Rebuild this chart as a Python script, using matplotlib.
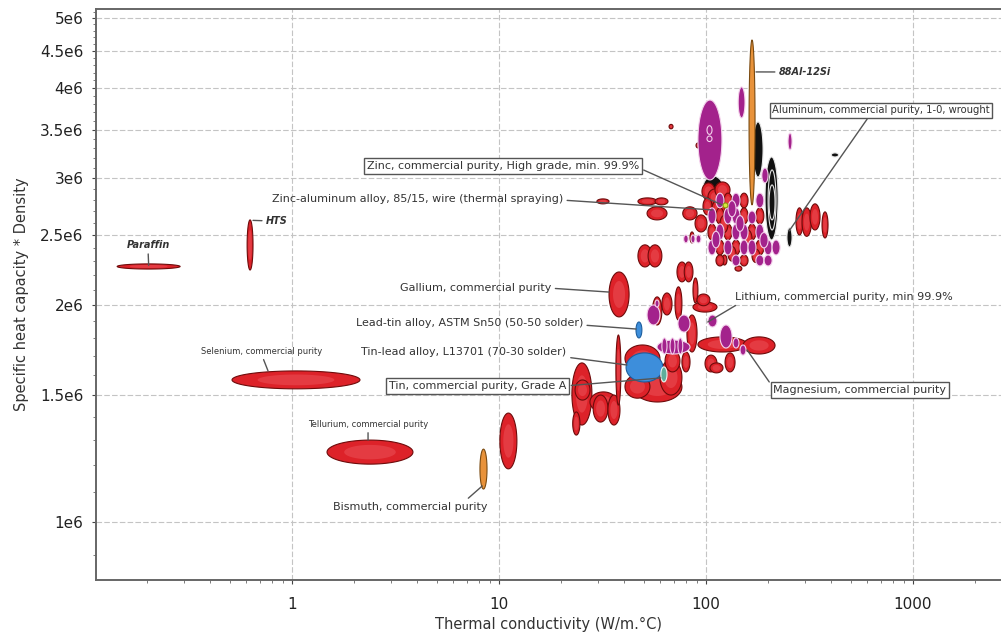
import numpy as np
import matplotlib
matplotlib.use("Agg")
import matplotlib.pyplot as plt
from matplotlib.ticker import FixedLocator, FixedFormatter, LogLocator, NullFormatter

# each bubble: (k_min, k_max, rhoCp_min, rhoCp_max)
# k = thermal conductivity (W/m.°C), rhoCp in 1e6 J/m3.°C

black_bubbles = [
    (96.7, 120.8, 2.797, 3.019),
    (168.6, 188.6, 3.009, 3.588),
    (192.8, 223.0, 2.461, 3.208),
    (199.5, 217.9, 2.541, 3.078),
    (201.6, 215.5, 2.624, 2.934),
    (246.0, 260.4, 2.407, 2.558),
    (403.0, 437.0, 3.208, 3.250),
]

red_bubbles = [
    # isolated materials
    (0.143, 0.288, 2.243, 2.280),   # paraffin
    (0.607, 0.648, 2.236, 2.624),   # HTS
    (0.513, 2.13, 1.530, 1.620),    # selenium
    (1.476, 3.84, 1.203, 1.299),    # tellurium
    (10.1, 12.2, 1.185, 1.416),
    (34.0, 42.5, 1.925, 2.222),     # gallium
    # lead / solder group
    (22.5, 28.1, 1.363, 1.662),
    (23.3, 27.5, 1.476, 1.574),
    (22.7, 24.6, 1.320, 1.421),
    (27.5, 37.1, 1.421, 1.515),
    (28.5, 33.6, 1.376, 1.500),
    (33.6, 38.4, 1.363, 1.500),
    (36.7, 38.8, 1.453, 1.817),
    (40.6, 59.9, 1.615, 1.760),
    (44.4, 76.5, 1.467, 1.615),
    (59.9, 76.5, 1.500, 1.678),
    (40.6, 53.6, 1.485, 1.599),
    (63.4, 74.8, 1.615, 1.732),
    (76.5, 83.7, 1.615, 1.721),
    # middle group
    (46.9, 54.8, 2.258, 2.423),
    (52.5, 61.2, 2.258, 2.423),
    (72.4, 80.9, 2.153, 2.294),
    (78.5, 86.5, 2.153, 2.294),
    (61.2, 68.5, 1.937, 2.078),
    (55.1, 61.2, 1.876, 2.052),
    (70.8, 76.5, 1.906, 2.119),
    (86.5, 91.4, 2.013, 2.180),
    (86.5, 113.0, 1.955, 2.019),
    (90.5, 104.5, 1.995, 2.071),
    (80.9, 90.5, 1.721, 1.937),
    (91.4, 158.0, 1.721, 1.806),
    (151.0, 215.5, 1.710, 1.806),
    (98.9, 113.0, 1.615, 1.704),
    (104.5, 120.8, 1.610, 1.662),
    (123.6, 138.1, 1.615, 1.716),
    (119.4, 126.3, 2.272, 2.346),
    # around zinc
    (29.7, 34.0, 2.762, 2.806),
    (46.9, 58.0, 2.753, 2.815),
    (56.7, 65.5, 2.753, 2.815),
    (51.9, 64.8, 2.624, 2.736),
    (77.2, 90.5, 2.624, 2.736),
    (88.5, 101.1, 2.525, 2.666),
    (83.7, 87.5, 2.438, 2.525),
    (95.6, 110.5, 2.797, 2.953),
    (102.2, 119.4, 2.753, 2.896),
    (110.5, 130.6, 2.815, 2.962),
    (96.7, 106.9, 2.666, 2.815),
    (106.9, 123.6, 2.649, 2.797),
    (66.3, 69.3, 3.510, 3.560),
    (89.5, 93.5, 3.302, 3.355),
    # aluminium alloys cluster
    (122.1, 133.5, 2.727, 2.858),
    (146.0, 159.6, 2.727, 2.858),
    (111.7, 122.1, 2.590, 2.727),
    (146.0, 159.6, 2.590, 2.727),
    (174.1, 190.3, 2.590, 2.727),
    (102.2, 111.8, 2.461, 2.590),
    (122.1, 133.5, 2.461, 2.590),
    (159.6, 174.4, 2.461, 2.590),
    (111.7, 122.1, 2.346, 2.461),
    (133.5, 146.0, 2.346, 2.461),
    (174.1, 190.3, 2.346, 2.461),
    (111.7, 122.1, 2.265, 2.346),
    (146.0, 159.6, 2.265, 2.346),
    (138.0, 149.0, 2.228, 2.265),
    (116.8, 127.7, 2.520, 2.660),
    (152.7, 166.8, 2.400, 2.540),
    (127.7, 139.6, 2.300, 2.410),
    (166.8, 182.0, 2.290, 2.390),
    # copper side
    (272.0, 294.0, 2.501, 2.727),
    (291.0, 323.0, 2.490, 2.727),
    (318.0, 355.5, 2.541, 2.762),
    (363.5, 388.5, 2.477, 2.692),
]

purple_bubbles = [
    (91.4, 119.4, 2.981, 3.848),
    (101.1, 106.9, 3.448, 3.545),
    (101.1, 106.9, 3.370, 3.430),
    (143.0, 154.3, 3.634, 4.012),
    (249.0, 260.4, 3.281, 3.463),
    (186.0, 199.5, 2.953, 3.097),
    (51.9, 59.9, 1.876, 2.000),
    (56.7, 59.3, 1.987, 2.032),
    (73.2, 83.7, 1.834, 1.937),
    (102.2, 113.0, 1.864, 1.937),
    (116.8, 133.6, 1.743, 1.876),
    (58.0, 83.7, 1.710, 1.788),
    (61.2, 64.8, 1.710, 1.800),
    (67.0, 70.8, 1.710, 1.800),
    (73.2, 77.2, 1.710, 1.800),
    (135.1, 144.3, 1.743, 1.800),
    (146.0, 156.0, 1.704, 1.760),
    (78.0, 82.0, 2.438, 2.501),
    (84.6, 88.5, 2.438, 2.501),
    (89.5, 94.5, 2.438, 2.501),
    # aluminium alloys cluster
    (111.7, 122.1, 2.727, 2.858),
    (133.5, 146.0, 2.727, 2.858),
    (174.1, 190.3, 2.727, 2.858),
    (102.2, 111.8, 2.590, 2.727),
    (122.1, 133.5, 2.590, 2.727),
    (133.5, 146.0, 2.590, 2.727),
    (159.6, 174.4, 2.590, 2.700),
    (111.7, 122.1, 2.461, 2.590),
    (133.5, 146.0, 2.461, 2.590),
    (146.0, 159.6, 2.461, 2.590),
    (174.1, 190.3, 2.461, 2.590),
    (102.2, 111.8, 2.346, 2.461),
    (122.1, 133.5, 2.346, 2.461),
    (146.0, 159.6, 2.346, 2.461),
    (159.6, 174.4, 2.346, 2.461),
    (190.8, 208.6, 2.346, 2.461),
    (208.5, 227.9, 2.346, 2.461),
    (133.5, 146.0, 2.265, 2.346),
    (174.1, 190.3, 2.265, 2.346),
    (190.8, 208.6, 2.265, 2.346),
    (127.7, 139.6, 2.650, 2.790),
    (139.6, 152.7, 2.530, 2.660),
    (106.9, 116.8, 2.400, 2.530),
    (182.0, 199.5, 2.400, 2.520),
]

orange_bubbles = [
    (8.09, 8.75, 1.111, 1.262),     # bismuth
    (161.4, 172.5, 2.753, 4.661),   # 88Al-12Si
]
blue_bubbles = [
    (41.1, 61.9, 1.564, 1.716),     # 70-30 solder
    (45.9, 49.0, 1.800, 1.894),     # 50-50 solder
]
teal_bubbles = [(60.5, 64.8, 1.564, 1.641)]      # tin
yellow_bubbles = [(120.8, 127.7, 2.727, 2.770)]  # zinc

y_ticks = [1.0e6, 1.5e6, 2.0e6, 2.5e6, 3.0e6, 3.5e6, 4.0e6, 4.5e6, 5.0e6]
y_tick_labels = ["1e6", "1.5e6", "2e6", "2.5e6", "3e6", "3.5e6", "4e6", "4.5e6", "5e6"]
x_ticks = [1, 10, 100, 1000]
x_tick_labels = ["1", "10", "100", "1000"]

# (bubbles, face, edge, inner highlight)
styles = [
    (black_bubbles, "#111111", "#e6e6e6", None),
    (red_bubbles, "#dd2229", "#6e0b0b", "#ee5a62"),
    (purple_bubbles, "#a3228c", "#f4d2ec", None),
    (orange_bubbles, "#e8923a", "#7a4a10", None),
    (blue_bubbles, "#3d8edb", "#1d5e9e", None),
    (teal_bubbles, "#5fae9b", "#eef6f2", None),
    (yellow_bubbles, "#d5ea3c", "#8a9a10", None),
]


def bubble(ax, klo, khi, clo, chi, fc, ec, hi=None):
    # ellipse in log-log space spanning the property ranges
    t = np.linspace(0, 2 * np.pi, 90)
    lx0, lx1 = np.log10(klo), np.log10(khi)
    ly0, ly1 = np.log10(clo * 1e6), np.log10(chi * 1e6)
    cx, cy = (lx0 + lx1) / 2, (ly0 + ly1) / 2
    rx, ry = (lx1 - lx0) / 2, (ly1 - ly0) / 2
    ax.fill(10 ** (cx + rx * np.cos(t)), 10 ** (cy + ry * np.sin(t)),
            fc=fc, ec=ec, lw=0.8, zorder=3)
    if hi is not None:
        ax.fill(10 ** (cx + 0.6 * rx * np.cos(t)), 10 ** (cy + 0.6 * ry * np.sin(t)),
                fc=hi, ec="none", alpha=0.45, zorder=3)


fig = plt.figure(figsize=(10.01, 6.42), dpi=100)
ax = fig.add_axes([0.0959, 0.0966, 0.9041, 0.8894])
ax.set_xscale("log")
ax.set_yscale("log")
ax.set_xlim(0.113, 2661)
ax.set_ylim(8.31e5, 5.146e6)

for group, fc, ec, hi in styles:
    for klo, khi, clo, chi in group:
        bubble(ax, klo, khi, clo, chi, fc, ec, hi)

# ticks and grid
ax.yaxis.set_major_locator(FixedLocator(y_ticks))
ax.yaxis.set_major_formatter(FixedFormatter(y_tick_labels))
ax.yaxis.set_minor_locator(FixedLocator(np.arange(0.9e6, 5.15e6, 1e5)))
ax.yaxis.set_minor_formatter(NullFormatter())
ax.xaxis.set_major_locator(FixedLocator(x_ticks))
ax.xaxis.set_major_formatter(FixedFormatter(x_tick_labels))
ax.xaxis.set_minor_locator(LogLocator(base=10, subs=np.arange(2, 10)))
ax.xaxis.set_minor_formatter(NullFormatter())
ax.tick_params(axis="both", which="major", labelsize=11, colors="#444444", labelcolor="#222222", length=3)
ax.tick_params(axis="x", which="major", pad=9)
ax.tick_params(axis="y", which="major", pad=6)
ax.tick_params(axis="both", which="minor", length=2, colors="#666666")
ax.grid(True, which="major", color="#c4c4c4", lw=0.8, ls=(0, (5, 2)), zorder=0)

for s in ["left", "bottom", "top"]:
    ax.spines[s].set_color("#666666")
    ax.spines[s].set_linewidth(1.4)
ax.spines["right"].set_visible(False)

ax.set_xlabel("Thermal conductivity (W/m.°C)", fontsize=10.5, color="#333333", labelpad=4)
ax.set_ylabel("Specific heat capacity * Density", fontsize=10.5, color="#333333", labelpad=8)

line = dict(arrowstyle="-", color="#555555", lw=1.0, shrinkA=1, shrinkB=0)
boxed = dict(boxstyle="square,pad=0.25", fc="white", ec="#555555", lw=1.0)
tc = "#333333"


def label(text, xy, xyt, ha="center", size=8, box=False, weight="normal",
          style="normal", relpos=(0.5, 0.5)):
    ax.annotate(text, xy=xy, xytext=xyt, textcoords="axes fraction",
                ha=ha, va="center", fontsize=size, color=tc, weight=weight,
                style=style, bbox=boxed if box else None,
                arrowprops=dict(line, relpos=relpos), zorder=6,
                annotation_clip=False)


label("Paraffin", (0.203, 2.27e6), (0.0575, 0.587), size=7, weight="bold",
      style="italic", relpos=(0.5, 0))
label("HTS", (0.648, 2.62e6), (0.188, 0.629), ha="left", size=7, weight="bold",
      style="italic", relpos=(0, 0.5))
label("Selenium, commercial purity", (0.766, 1.62e6), (0.1834, 0.401), size=6,
      relpos=(0.5, 0))
label("Tellurium, commercial purity", (2.33, 1.299e6), (0.3006, 0.273), size=6,
      relpos=(0.5, 0))
label("Bismuth, commercial purity", (8.3, 1.122e6), (0.347, 0.128),
      relpos=(0.85, 1))
label("Gallium, commercial purity", (34.0, 2.084e6), (0.503, 0.511), ha="right",
      relpos=(1, 0.5))
label("Lead-tin alloy, ASTM Sn50 (50-50 solder)", (45.9, 1.852e6), (0.538, 0.450),
      ha="right", relpos=(1, 0.3))
label("Tin-lead alloy, L13701 (70-30 solder)", (41.5, 1.651e6), (0.520, 0.399),
      ha="right", relpos=(1, 0))
label("Tin, commercial purity, Grade A", (60.5, 1.584e6), (0.422, 0.340), box=True,
      relpos=(1, 0.5))
label("Zinc, commercial purity, High grade, min. 99.9%", (119.4, 2.753e6),
      (0.4497, 0.725), box=True, relpos=(1, 0.3))
label("Zinc-aluminum alloy, 85/15, wire (thermal spraying)", (106.9, 2.709e6),
      (0.516, 0.667), ha="right", relpos=(1, 0.4))
label("88Al-12Si", (174.4, 4.209e6), (0.7547, 0.8897), ha="left", size=7,
      weight="bold", style="italic", relpos=(0, 0.5))
label("Aluminum, commercial purity, 1-0, wrought", (252, 2.533e6), (0.747, 0.823),
      ha="left", size=7.2, box=True, relpos=(0.45, 0))
label("Lithium, commercial purity, min 99.9%", (102, 1.894e6), (0.706, 0.4956),
      ha="left", relpos=(0.03, 0))
label("Magnesium, commercial purity", (158, 1.732e6), (0.844, 0.333), box=True,
      relpos=(0, 0.7))

fig.savefig("out.png", dpi=100)
